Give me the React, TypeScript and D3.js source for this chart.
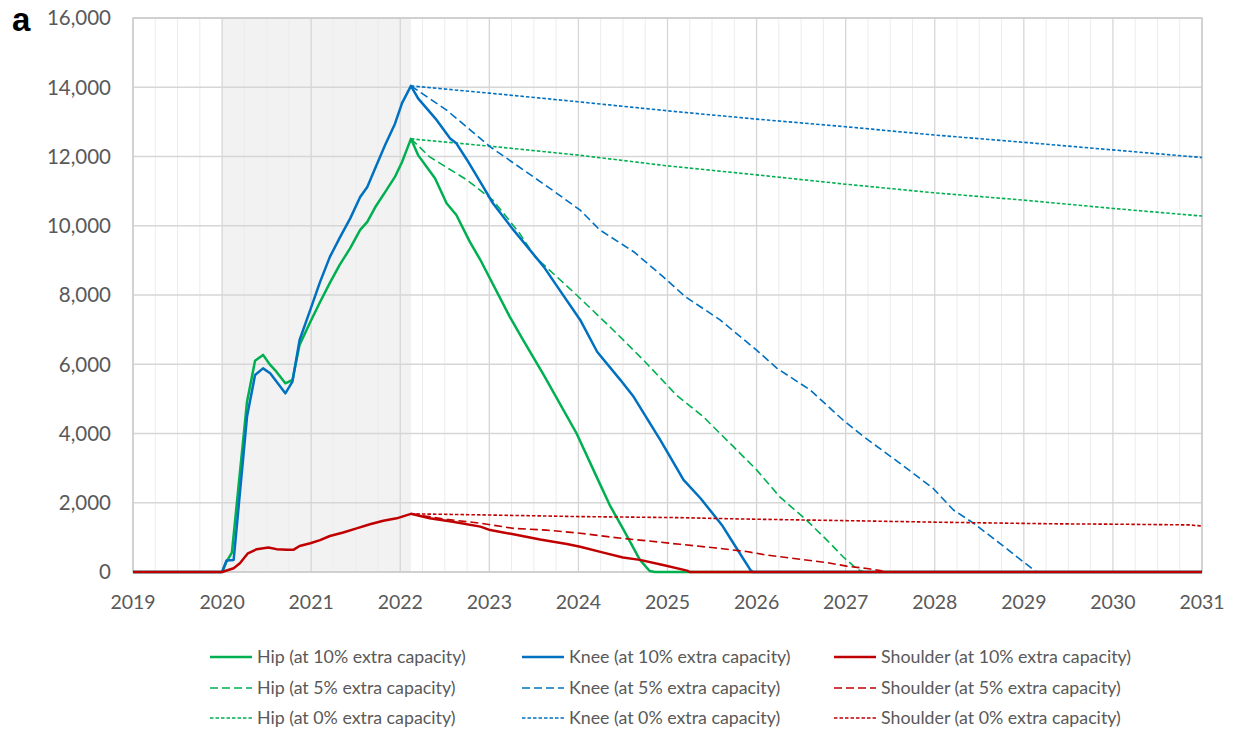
import React, { useEffect, useRef } from 'react';
import * as d3 from 'd3';

type Pt = [number, number];

// axis values
const years = d3.range(2019, 2032);
const yTicks = d3.range(0, 16001, 2000);
const shadeYears = [2020, 2022.12];

// values: [year, patients]
const hip10: Pt[] = [
  [2019, 0], [2020, 0], [2020.05, 300], [2020.11, 560], [2020.28, 4920], [2020.37, 6100],
  [2020.46, 6270], [2020.54, 5980], [2020.61, 5785], [2020.71, 5450], [2020.79, 5545],
  [2020.87, 6560], [2020.99, 7220], [2021.1, 7800], [2021.21, 8350], [2021.32, 8870],
  [2021.44, 9360], [2021.55, 9880], [2021.63, 10110], [2021.72, 10540], [2021.83, 10970],
  [2021.94, 11410], [2022.02, 11840], [2022.12, 12510], [2022.2, 12040], [2022.39, 11370],
  [2022.52, 10650], [2022.63, 10310], [2022.78, 9540], [2022.9, 9010], [2023.23, 7370],
  [2023.38, 6700], [2023.61, 5690], [2023.98, 4000], [2024.22, 2660], [2024.35, 1940],
  [2024.52, 1160], [2024.69, 350], [2024.8, 30], [2024.86, 0], [2031, 0],
];
const hip5: Pt[] = [
  [2022.12, 12510], [2022.33, 11990], [2022.75, 11320], [2023.04, 10740], [2023.34, 9780],
  [2023.51, 9110], [2023.98, 8000], [2024.39, 6990], [2024.73, 6120], [2025.1, 5110],
  [2025.4, 4490], [2025.59, 4000], [2025.74, 3620], [2026.0, 2950], [2026.26, 2170],
  [2026.56, 1500], [2026.79, 920], [2026.97, 440], [2027.09, 170], [2027.16, 40],
  [2027.22, 0], [2031, 0],
];
const hip0: Pt[] = [
  [2022.12, 12510], [2023, 12300], [2024, 12040], [2025, 11730], [2026, 11470],
  [2027, 11200], [2028, 10950], [2029, 10740], [2030, 10500], [2031, 10280],
];

const knee10: Pt[] = [
  [2019, 0], [2020, 0], [2020.05, 330], [2020.13, 350], [2020.28, 4490], [2020.37, 5690],
  [2020.46, 5880], [2020.54, 5740], [2020.71, 5160], [2020.79, 5500], [2020.87, 6700],
  [2020.99, 7570], [2021.1, 8380], [2021.21, 9100], [2021.32, 9650], [2021.44, 10220],
  [2021.55, 10830], [2021.63, 11120], [2021.72, 11670], [2021.83, 12330], [2021.94, 12940],
  [2022.02, 13540], [2022.12, 14040], [2022.2, 13680], [2022.41, 13050], [2022.56, 12520],
  [2022.63, 12380], [2022.75, 11900], [2022.93, 11130], [2023.04, 10650], [2023.27, 9880],
  [2023.61, 8820], [2023.79, 8140], [2024.02, 7280], [2024.21, 6360], [2024.47, 5550],
  [2024.62, 5060], [2024.92, 3810], [2025.18, 2660], [2025.37, 2130], [2025.61, 1360],
  [2025.74, 830], [2025.93, 60], [2025.96, 0], [2031, 0],
];
const knee5: Pt[] = [
  [2022.12, 14040], [2022.52, 13340], [2023.01, 12280], [2023.49, 11420], [2023.68, 11080],
  [2024.02, 10450], [2024.24, 9880], [2024.62, 9250], [2024.95, 8530], [2025.2, 7950],
  [2025.37, 7660], [2025.59, 7280], [2026.0, 6410], [2026.23, 5880], [2026.6, 5260],
  [2026.97, 4390], [2027.2, 3910], [2027.61, 3140], [2027.98, 2420], [2028.21, 1790],
  [2028.43, 1420], [2028.73, 830], [2029.11, 60], [2029.14, 0], [2031, 0],
];
const knee0: Pt[] = [
  [2022.12, 14040], [2023, 13830], [2024, 13580], [2025, 13320], [2026, 13080],
  [2027, 12860], [2028, 12620], [2029, 12410], [2030, 12190], [2031, 11970],
];

const shoulder10: Pt[] = [
  [2019, 0], [2020, 0], [2020.13, 110], [2020.2, 250], [2020.29, 540], [2020.39, 660],
  [2020.52, 710], [2020.61, 660], [2020.73, 640], [2020.8, 640], [2020.87, 750],
  [2020.99, 830], [2021.1, 920], [2021.21, 1040], [2021.36, 1140], [2021.51, 1260],
  [2021.66, 1380], [2021.81, 1480], [2021.96, 1550], [2022.12, 1680], [2022.33, 1550],
  [2022.59, 1450], [2022.9, 1310], [2023.01, 1210], [2023.27, 1090], [2023.57, 940],
  [2023.87, 810], [2024.02, 730], [2024.28, 560], [2024.5, 420], [2024.69, 350],
  [2024.95, 200], [2025.22, 40], [2025.25, 0], [2031, 0],
];
const shoulder5: Pt[] = [
  [2022.12, 1680], [2022.52, 1520], [2022.9, 1410], [2023.27, 1260], [2023.64, 1210],
  [2024.02, 1120], [2024.39, 1000], [2024.77, 900], [2025.14, 800], [2025.52, 700],
  [2025.89, 590], [2026.11, 490], [2026.49, 370], [2026.79, 270], [2027.01, 170],
  [2027.24, 100], [2027.39, 40], [2027.44, 0], [2031, 0],
];
const shoulder0: Pt[] = [
  [2022.12, 1680], [2022.9, 1650], [2024.02, 1600], [2025.14, 1570], [2025.85, 1530],
  [2027.09, 1480], [2027.98, 1440], [2029.11, 1400], [2029.42, 1390], [2030.07, 1380],
  [2030.85, 1360], [2031, 1330],
];

const GREEN = '#00b050';
const BLUE = '#0070c0';
const RED = '#c00000';

const styles: Record<string, { dash: string | null; width: number }> = {
  solid: { dash: null, width: 2.5 },
  dashed: { dash: '8,4', width: 1.6 },
  dotted: { dash: '3.5,2', width: 1.6 },
};

const series = [
  { name: 'Hip (at 0% extra capacity)', data: hip0, color: GREEN, style: 'dotted', col: 0, row: 2 },
  { name: 'Hip (at 5% extra capacity)', data: hip5, color: GREEN, style: 'dashed', col: 0, row: 1 },
  { name: 'Hip (at 10% extra capacity)', data: hip10, color: GREEN, style: 'solid', col: 0, row: 0 },
  { name: 'Knee (at 0% extra capacity)', data: knee0, color: BLUE, style: 'dotted', col: 1, row: 2 },
  { name: 'Knee (at 5% extra capacity)', data: knee5, color: BLUE, style: 'dashed', col: 1, row: 1 },
  { name: 'Knee (at 10% extra capacity)', data: knee10, color: BLUE, style: 'solid', col: 1, row: 0 },
  { name: 'Shoulder (at 0% extra capacity)', data: shoulder0, color: RED, style: 'dotted', col: 2, row: 2 },
  { name: 'Shoulder (at 5% extra capacity)', data: shoulder5, color: RED, style: 'dashed', col: 2, row: 1 },
  { name: 'Shoulder (at 10% extra capacity)', data: shoulder10, color: RED, style: 'solid', col: 2, row: 0 },
];

const App: React.FC = () => {
  const width = 1234;
  const height = 732;
  const svgRef = useRef<SVGSVGElement>(null);

  useEffect(() => {
    if (!svgRef.current) return;
    const svg = d3.select(svgRef.current);
    svg.selectAll('*').remove();

    const left = 133, right = 1202, top = 18, bottom = 572;
    const x = d3.scaleLinear().domain([2019, 2031]).range([left, right]);
    const y = d3.scaleLinear().domain([0, 16000]).range([bottom, top]);
    const font = 'Lato, "Open Sans", sans-serif';
    const textColor = '#595959';

    // covid shading
    svg.append('rect')
      .attr('x', x(shadeYears[0]))
      .attr('y', top)
      .attr('width', x(shadeYears[1]) - x(shadeYears[0]))
      .attr('height', bottom - top)
      .attr('fill', '#f2f2f2');

    // quarterly minor grid
    const minor = d3.range(2019, 2031, 0.25).filter(d => d % 1 !== 0);
    svg.append('g').selectAll('line')
      .data(minor)
      .enter()
      .append('line')
      .attr('x1', d => x(d)).attr('x2', d => x(d))
      .attr('y1', top).attr('y2', bottom)
      .attr('stroke', '#ececec')
      .attr('stroke-width', 1);

    svg.append('g').selectAll('line')
      .data(years)
      .enter()
      .append('line')
      .attr('x1', d => x(d)).attr('x2', d => x(d))
      .attr('y1', top).attr('y2', bottom)
      .attr('stroke', '#d6d6d6')
      .attr('stroke-width', 1.3);

    svg.append('g').selectAll('line')
      .data(yTicks)
      .enter()
      .append('line')
      .attr('x1', left).attr('x2', right)
      .attr('y1', d => y(d)).attr('y2', d => y(d))
      .attr('stroke', '#d6d6d6')
      .attr('stroke-width', 1.3);

    svg.append('rect')
      .attr('x', left).attr('y', top)
      .attr('width', right - left).attr('height', bottom - top)
      .attr('fill', 'none')
      .attr('stroke', '#c8c8c8')
      .attr('stroke-width', 1.3);

    const line = d3.line<Pt>().x(d => x(d[0])).y(d => y(d[1]));

    svg.append('g').selectAll('path')
      .data(series)
      .enter()
      .append('path')
      .attr('d', d => line(d.data))
      .attr('fill', 'none')
      .attr('stroke', d => d.color)
      .attr('stroke-width', d => styles[d.style].width)
      .attr('stroke-dasharray', d => styles[d.style].dash)
      .attr('stroke-linejoin', 'round');

    // y labels
    svg.append('g').selectAll('text')
      .data(yTicks)
      .enter()
      .append('text')
      .attr('x', 111)
      .attr('y', d => y(d))
      .attr('dy', '0.36em')
      .attr('text-anchor', 'end')
      .attr('font-family', font)
      .attr('font-size', 20.5)
      .attr('fill', textColor)
      .text(d => d3.format(',')(d));

    // x labels
    svg.append('g').selectAll('text')
      .data(years)
      .enter()
      .append('text')
      .attr('x', d => x(d))
      .attr('y', 609)
      .attr('text-anchor', 'middle')
      .attr('font-family', font)
      .attr('font-size', 19.5)
      .attr('fill', textColor)
      .text(d => String(d));

    svg.append('text')
      .attr('x', 12)
      .attr('y', 31)
      .attr('font-family', '"Liberation Sans", Arial, sans-serif')
      .attr('font-weight', 'bold')
      .attr('font-size', 33)
      .attr('fill', '#000')
      .text('a');

    // legend
    const colX = [210, 522, 834];
    const rowY = [657, 688, 718];
    const legend = svg.append('g').selectAll('g')
      .data(series)
      .enter()
      .append('g')
      .attr('transform', d => `translate(${colX[d.col]},${rowY[d.row]})`);

    legend.append('line')
      .attr('x1', 0).attr('x2', 42)
      .attr('stroke', d => d.color)
      .attr('stroke-width', d => (d.style === 'solid' ? 2.5 : 1.6))
      .attr('stroke-dasharray', d => styles[d.style].dash);

    legend.append('text')
      .attr('x', 47)
      .attr('dy', '0.35em')
      .attr('font-family', font)
      .attr('font-size', 17.8)
      .attr('fill', textColor)
      .text(d => d.name);
  }, []);

  return (
    <svg ref={svgRef} width={width} height={height}
      style={{ position: 'absolute', left: 0, top: 0, background: '#fff' }} />
  );
};

export default App;
